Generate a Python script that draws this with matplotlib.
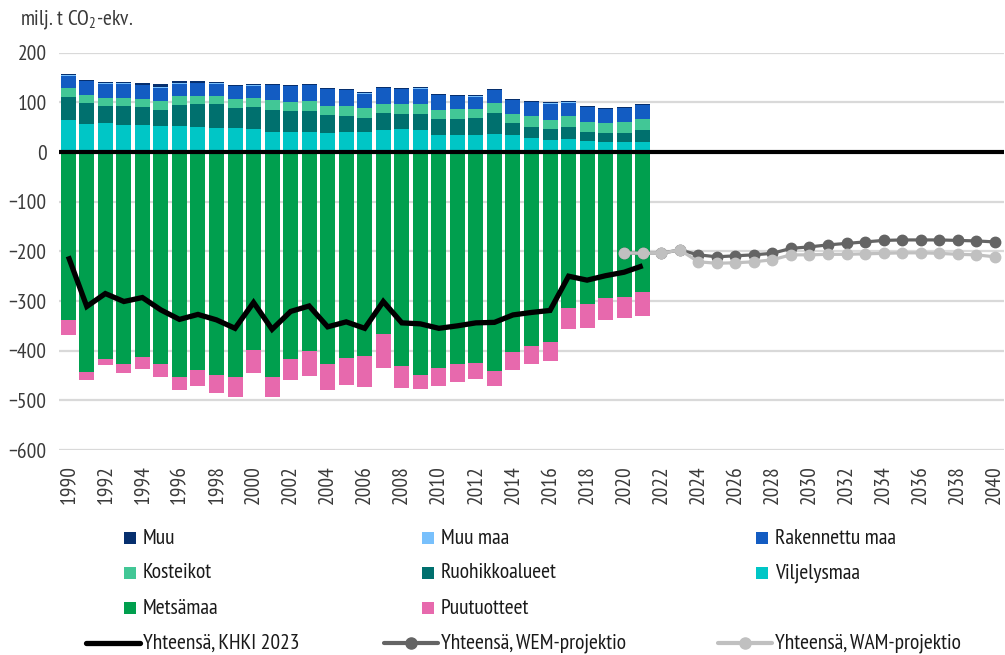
import matplotlib
matplotlib.use("Agg")
import matplotlib.pyplot as plt
from matplotlib import font_manager
from matplotlib.patches import Rectangle
from matplotlib.lines import Line2D
import numpy as np

# ---------------- data ----------------
hist_years = list(range(1990, 2022))
proj_years = list(range(2020, 2041))
tick_years = list(range(1990, 2041, 2))

viljelysmaa = [65, 57, 59, 55, 55, 53, 53, 51, 49, 49, 47, 41, 41, 41, 39, 41,
               41, 45, 47, 45, 35, 35, 35, 37, 35, 28.5, 24.5, 26.5, 22.5, 20.5, 20.5, 20.5]
ruohikkoalueet = [46, 42, 34, 38, 36, 32, 42, 46, 48, 40, 44, 44, 42, 42, 36, 32,
                  28, 34, 30, 32, 32, 32, 34, 42, 24, 22, 22, 24, 18, 18, 18, 24]
kosteikot = [18, 16, 16, 16, 16, 18, 18, 16, 16, 18, 18, 20, 18, 20, 18, 20,
             20, 18, 20, 20, 18, 20, 18, 20, 18, 22, 18, 22, 20, 20, 22, 22]
rakennettu = [24, 28, 28, 28, 28, 26, 24, 26, 24, 26, 24, 30, 32, 32, 34, 32,
              28, 32, 30, 30, 30, 26, 24, 26, 28, 28, 32, 26, 30, 28, 28, 28]
muu_maa = [1.5, 0.3, 1.5, 1.5, 0.3, 2, 2, 0.3, 2, 0.3, 2, 0.3, 0.3, 0.3, 0.3, 0.3,
           2, 0.3, 0.3, 2, 0.3, 0.3, 2, 0.3, 0.3, 1, 2, 2, 0.3, 0.3, 0.3, 0.3]
muu = [2.5, 2, 2, 2, 4, 6, 4, 4, 2, 2, 2, 2, 2, 2, 2, 2,
       2, 2, 2, 2, 2, 2, 2, 2, 2, 2, 2, 2, 2, 2, 2, 2]
metsamaa = [-338, -442, -417, -426, -413, -426, -453, -438, -449, -453, -399, -454,
            -417, -401, -426, -415, -411, -366, -431, -449, -435, -427, -425, -440,
            -402, -390, -382, -314, -307, -293, -291, -281]
puutuotteet = [-30, -18, -11, -18, -23, -28, -27, -34, -36, -40, -45, -40, -43, -49,
               -54, -55, -63, -68, -45, -29, -37, -37, -33, -32, -36, -36, -38, -42,
               -47, -45, -43, -49]
khki_2023 = [-210, -311, -285, -301, -293, -318, -337, -327, -338, -355, -303, -357,
             -321, -310, -352, -342, -355, -301, -344, -346, -355, -350, -344, -343,
             -328, -323, -319, -250, -258, -249, -242, -229]
wem = [-203, -204, -204, -197, -207, -211, -209, -207, -204, -194, -191, -187, -184,
       -181, -178, -177, -177, -177, -178, -179, -181]
wam = [-203, -204, -204, -197, -221, -224, -223, -221, -217, -207, -207, -206, -206,
       -205, -204, -203, -203, -204, -206, -207, -211]

# ---------------- fonts ----------------
available = {f.name for f in font_manager.fontManager.ttflist}
prefs = ["PT Sans Narrow", "Open Sans Condensed", "Roboto Condensed",
         "Fira Sans Condensed", "Asap Condensed", "Archivo Narrow",
         "Barlow Semi Condensed", "Liberation Sans Narrow"]
main_font = next((p for p in prefs if p in available), "DejaVu Sans")
fam = [main_font, "DejaVu Sans"]
plt.rcParams["font.family"] = fam
plt.rcParams["mathtext.fontset"] = "custom"
plt.rcParams["mathtext.rm"] = main_font
plt.rcParams["mathtext.it"] = main_font

C_MUU = "#062f6e"
C_MUUMAA = "#78c0fc"
C_RAK = "#135cc2"
C_KOST = "#42c796"
C_RUOH = "#00706e"
C_VILJ = "#00c6c6"
C_METSA = "#009f4e"
C_PUU = "#e769ad"
C_WEM = "#646464"
C_WAM = "#c0c0c0"
TXT = "#3a3a3a"

fig = plt.figure(figsize=(10.05, 6.55), dpi=100)
ax = fig.add_axes([59 / 1005, 1 - 450 / 655, 945 / 1005, (450 - 52.7) / 655])

w = 0.81
x = np.array(hist_years)
pos_series = [(viljelysmaa, C_VILJ), (ruohikkoalueet, C_RUOH), (kosteikot, C_KOST),
              (rakennettu, C_RAK), (muu_maa, C_MUUMAA), (muu, C_MUU)]
bottom = np.zeros(len(x))
for vals, col in pos_series:
    ax.bar(x, vals, w, bottom=bottom, color=col, zorder=2, linewidth=0)
    bottom += np.array(vals)
ax.bar(x, metsamaa, w, color=C_METSA, zorder=2, linewidth=0)
ax.bar(x, puutuotteet, w, bottom=metsamaa, color=C_PUU, zorder=2, linewidth=0)

ax.axhline(0, color="black", lw=3, zorder=3)
ax.plot(hist_years, khki_2023, color="black", lw=3.8, zorder=4,
        solid_joinstyle="miter", solid_capstyle="butt")
ax.plot(proj_years, wem, color=C_WEM, lw=2.3, marker="o", ms=7.5, zorder=5)
ax.plot(proj_years, wam, color=C_WAM, lw=2.3, marker="o", ms=7.5, zorder=6)

ax.set_xlim(1989.5, 2040.5)
ax.set_ylim(-600, 200)
ax.set_yticks(range(-600, 201, 100))
ax.set_xticks(tick_years)
ax.set_xticklabels([str(t) for t in tick_years], rotation=90)
ax.grid(axis="y", color="#d9d9d9", lw=1.6, zorder=0)
ax.set_axisbelow(True)
for s in ax.spines.values():
    s.set_visible(False)
ax.tick_params(axis="both", length=0, labelsize=15.5, colors=TXT)
ax.tick_params(axis="y", pad=9)
ax.tick_params(axis="x", pad=11)

fig.text(20 / 1005, 1 - 20 / 655, r"milj. t CO$_2$-ekv.", fontsize=15.5,
         color=TXT, va="center", ha="left")

# ---------------- legend (manual) ----------------
def fx(px):
    return px / 1005


def fy(py):
    return 1 - py / 655


cols = [143, 441, 775]
rows = [538, 573, 608]
patch_items = [
    [("Muu", C_MUU), ("Muu maa", C_MUUMAA), ("Rakennettu maa", C_RAK)],
    [("Kosteikot", C_KOST), ("Ruohikkoalueet", C_RUOH), ("Viljelysmaa", C_VILJ)],
    [("Metsämaa", C_METSA), ("Puutuotteet", C_PUU)],
]
for r, items in enumerate(patch_items):
    for c, (lab, col) in enumerate(items):
        tx = cols[c]
        fig.add_artist(Rectangle((fx(tx - 19), fy(rows[r] + 6)), 12 / 1005, 12 / 655,
                                 transform=fig.transFigure, color=col, lw=0))
        fig.text(fx(tx), fy(rows[r]), lab, fontsize=15.5, color="#1a1a1a",
                 va="center", ha="left")

line_items = [("Yhteensä, KHKI 2023", "black", None, 3.8),
              ("Yhteensä, WEM-projektio", C_WEM, "o", 3.0),
              ("Yhteensä, WAM-projektio", C_WAM, "o", 3.0)]
ly = 643
for c, (lab, col, mk, lw) in enumerate(line_items):
    tx = cols[c]
    fig.add_artist(Line2D([fx(tx - 57), fx(tx - 3)], [fy(ly), fy(ly)],
                          transform=fig.transFigure, color=col, lw=lw,
                          solid_capstyle="round"))
    if mk:
        fig.add_artist(Line2D([fx(tx - 30)], [fy(ly)], transform=fig.transFigure,
                              color=col, marker=mk, ms=8, lw=0))
    fig.text(fx(tx), fy(ly), lab, fontsize=15.5, color="#1a1a1a",
             va="center", ha="left")

fig.savefig("out.png", dpi=100)
